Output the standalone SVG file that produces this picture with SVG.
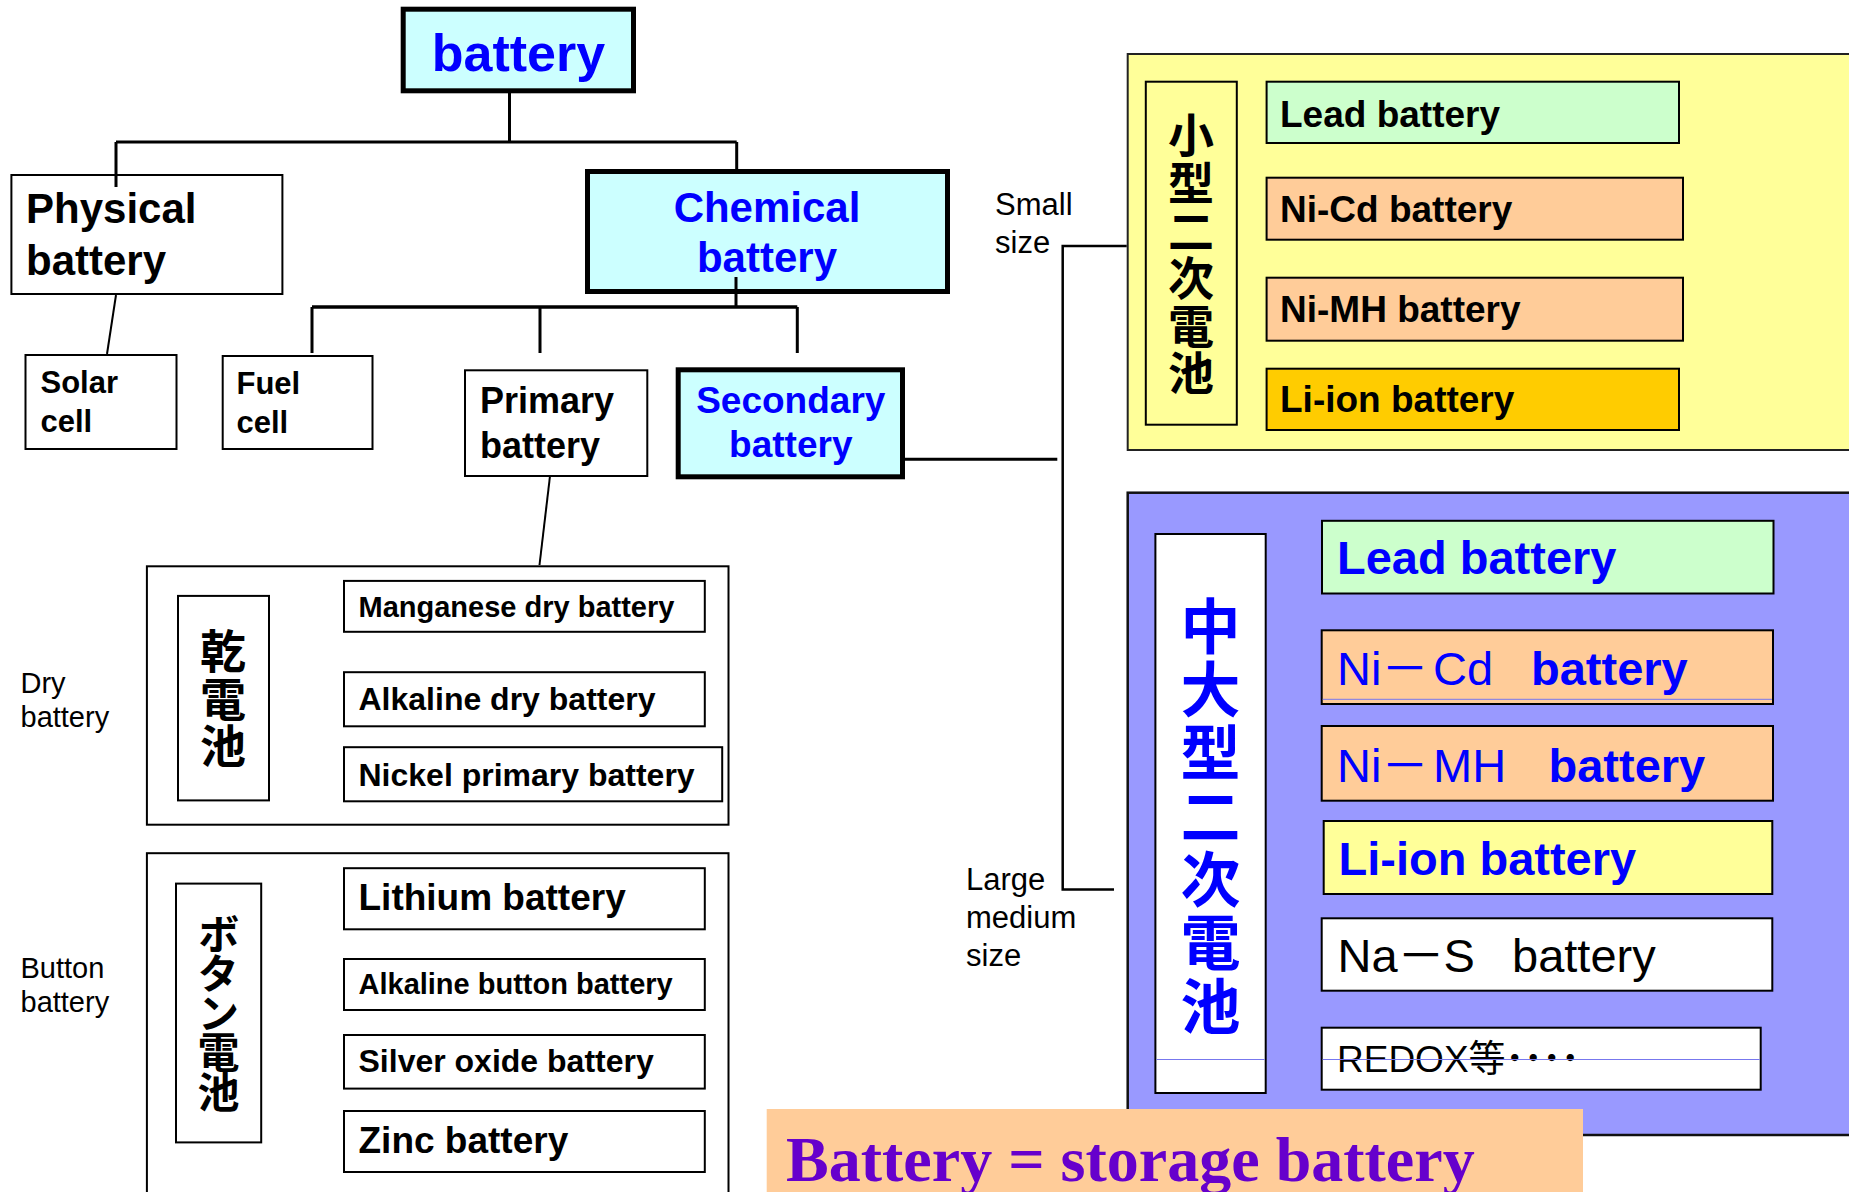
<svg xmlns="http://www.w3.org/2000/svg" width="1849" height="1192" viewBox="0 0 1849 1192">
<style>
text{font-family:"Liberation Sans",Arial,"Noto Sans CJK JP",sans-serif}
.b{font-weight:bold}
.r{font-weight:normal}
.cjk{font-family:"Noto Sans CJK JP","Noto Sans CJK SC",sans-serif;font-weight:bold;writing-mode:vertical-rl;text-orientation:upright}
.blue{fill:#0000FF}
.box{stroke:#000;stroke-width:2}
.thick{stroke:#000;stroke-width:5}
.conn{fill:none;stroke:#000;stroke-linecap:butt}
.w{fill:#FFFFFF}
.cyan{fill:#CCFFFF}
.yel{fill:#FFFF99}
.grn{fill:#CCFFCC}
.org{fill:#FFCC99}
.gold{fill:#FFCC00}
.pur{fill:#9999FF}
.note{font-size:31px;fill:#000}
.thin{stroke:#7777EE;stroke-width:1}
</style>

<g id="node-battery">
<rect class="thick cyan" x="403.2" y="9.2" width="230.3" height="81.6"/>
<text class="b blue" x="518.5" y="71" font-size="52" text-anchor="middle">battery</text>
</g>

<g id="node-physical">
<rect class="box w" x="11.4" y="175" width="271" height="119"/>
<text class="b" x="26" y="223" font-size="42">Physical</text>
<text class="b" x="26" y="275" font-size="42">battery</text>
</g>

<g id="node-chemical">
<rect class="thick cyan" x="587.5" y="171.5" width="360" height="120"/>
<text class="b blue" x="767" y="222" font-size="42" text-anchor="middle">Chemical</text>
<text class="b blue" x="767" y="272" font-size="42" text-anchor="middle">battery</text>
</g>

<g id="node-solar">
<rect class="box w" x="25.5" y="355" width="151" height="94"/>
<text class="b" x="40.5" y="393" font-size="31">Solar</text>
<text class="b" x="40.5" y="432" font-size="31">cell</text>
</g>

<g id="node-fuel">
<rect class="box w" x="222.7" y="356" width="149.8" height="93"/>
<text class="b" x="236.5" y="394" font-size="31">Fuel</text>
<text class="b" x="236.5" y="433" font-size="31">cell</text>
</g>

<g id="node-primary">
<rect class="box w" x="465" y="370.3" width="182.3" height="105.7"/>
<text class="b" x="480" y="413" font-size="36">Primary</text>
<text class="b" x="480" y="458" font-size="36">battery</text>
</g>

<g id="node-secondary">
<rect class="thick cyan" x="678.2" y="369.8" width="224.3" height="107"/>
<text class="b blue" x="790.8" y="413" font-size="37" text-anchor="middle">Secondary</text>
<text class="b blue" x="790.8" y="457" font-size="37" text-anchor="middle">battery</text>
</g>

<g id="node-dry">
<rect class="box w" x="146.9" y="566.3" width="581.6" height="258.4"/>
<rect class="box w" x="178" y="595.9" width="91" height="204.5"/>
<text class="cjk" x="223" y="628" font-size="46" letter-spacing="1.5">乾電池</text>
<rect class="box w" x="344" y="580.9" width="360.8" height="50.9"/>
<text class="b" x="358.5" y="617" font-size="29">Manganese dry battery</text>
<rect class="box w" x="344" y="672.2" width="360.8" height="54.1"/>
<text class="b" x="358.5" y="709.6" font-size="32">Alkaline dry battery</text>
<rect class="box w" x="344" y="747.2" width="378.2" height="54.1"/>
<text class="b" x="358.5" y="786" font-size="32">Nickel primary battery</text>
</g>

<g id="node-button">
<rect class="box w" x="146.9" y="853.2" width="581.6" height="400"/>
<rect class="box w" x="176" y="883.6" width="85.2" height="258.8"/>
<text class="cjk" x="218.6" y="913" font-size="42" letter-spacing="-2.5">ボタン電池</text>
<rect class="box w" x="344" y="868.2" width="360.8" height="61.1"/>
<text class="b" x="358.5" y="910.4" font-size="37">Lithium battery</text>
<rect class="box w" x="344" y="959" width="360.8" height="51"/>
<text class="b" x="358.5" y="994" font-size="29">Alkaline button battery</text>
<rect class="box w" x="344" y="1035" width="360.8" height="53.6"/>
<text class="b" x="358.5" y="1071.5" font-size="32">Silver oxide battery</text>
<rect class="box w" x="344" y="1111" width="360.8" height="61"/>
<text class="b" x="358.5" y="1153" font-size="37">Zinc battery</text>
</g>

<g id="label-dry">
<text class="r" x="20.5" y="693" font-size="29">Dry</text>
<text class="r" x="20.5" y="727" font-size="29">battery</text>
</g>
<g id="label-button">
<text class="r" x="20.5" y="978" font-size="29">Button</text>
<text class="r" x="20.5" y="1012" font-size="29">battery</text>
</g>

<g id="node-small">
<rect class="yel" x="1127.7" y="54" width="800" height="396" stroke="#222" stroke-width="2"/>
<rect class="box yel" x="1145.8" y="81.7" width="91" height="343"/>
<text class="cjk" x="1191" y="112" font-size="46" letter-spacing="1.6">小型二次電池</text>
<rect class="box grn" x="1266.6" y="81.7" width="412.4" height="61.3"/>
<text class="b" x="1280" y="126.7" font-size="37">Lead battery</text>
<rect class="box org" x="1266.6" y="177.7" width="416.4" height="62"/>
<text class="b" x="1280" y="221.7" font-size="37">Ni-Cd battery</text>
<rect class="box org" x="1266.6" y="277.7" width="416.4" height="63"/>
<text class="b" x="1280" y="321.7" font-size="37">Ni-MH battery</text>
<rect class="box gold" x="1266.6" y="368.7" width="412.4" height="61.3"/>
<text class="b" x="1280" y="412" font-size="37">Li-ion battery</text>
</g>

<g id="label-small">
<text class="note r" x="995" y="215">Small</text>
<text class="note r" x="995" y="253">size</text>
</g>

<g id="node-large">
<rect class="pur" x="1127.7" y="492.7" width="800" height="642.3" stroke="#111" stroke-width="2.5"/>
<rect class="box w" x="1155.4" y="534" width="110.3" height="559"/>
<line class="thin" x1="1156.4" y1="1059.5" x2="1264.7" y2="1059.5"/>
<text class="cjk blue" x="1210.5" y="596" font-size="60" letter-spacing="3.3">中大型二次電池</text>
<rect class="box grn" x="1322" y="520.8" width="451.5" height="72.7"/>
<text class="b blue" x="1337" y="574.4" font-size="47">Lead battery</text>
<rect class="box org" x="1321.7" y="630.3" width="451.3" height="73.7"/>
<line class="thin" x1="1322.7" y1="699.3" x2="1772" y2="699.3"/>
<text class="blue" font-size="47" y="685"><tspan class="r" x="1337">Ni－</tspan><tspan class="r" x="1433">Cd</tspan><tspan class="b" x="1531">battery</tspan></text>
<rect class="box org" x="1321.7" y="726" width="451.3" height="74.7"/>
<text class="blue" font-size="47" y="781.7"><tspan class="r" x="1337">Ni－</tspan><tspan class="r" x="1433">MH</tspan><tspan class="b" x="1548.5">battery</tspan></text>
<rect class="box yel" x="1323.7" y="821" width="448.6" height="73"/>
<text class="b blue" x="1338.5" y="875" font-size="47">Li-ion battery</text>
<rect class="box w" x="1321.7" y="918.3" width="450.6" height="72.4"/>
<text class="r" font-size="47" y="971.7"><tspan x="1337.5">Na－</tspan><tspan x="1443.5">S</tspan><tspan x="1512">battery</tspan></text>
<rect class="box w" x="1321.7" y="1027.7" width="439" height="62"/>
<text class="r" x="1337" y="1071.7" font-size="37">REDOX等<tspan class="b">････</tspan></text>
<line class="thin" x1="1322.7" y1="1059.5" x2="1759.7" y2="1059.5"/>
</g>

<g id="label-large">
<text class="note r" x="966" y="890">Large</text>
<text class="note r" x="966" y="928">medium</text>
<text class="note r" x="966" y="966">size</text>
</g>

<g id="connectors">
<path class="conn" stroke-width="3" d="M509.5 93 V142 M116 142 H736.7 M116 142 V187 M736.7 142 V170"/>
<path class="conn" stroke-width="2" d="M116 295 L107 354"/>
<path class="conn" stroke-width="3" d="M736 277 V307"/>
<path class="conn" stroke-width="3.5" d="M312 307 H797.3"/>
<path class="conn" stroke-width="3" d="M312 307 V353 M540 307 V353 M797.3 307 V353"/>
<path class="conn" stroke-width="2" d="M550 476 L539.5 565"/>
<path class="conn" stroke-width="3" d="M905 459.3 H1057.3"/>
<path class="conn" stroke-width="2.5" d="M1126.7 246 H1062.7 V889.5 H1114"/>
</g>

<g id="banner">
<rect class="org" x="766.7" y="1109" width="816.3" height="100"/>
<text x="786" y="1180.7" font-size="64" font-weight="bold" fill="#6600CC" style="font-family:'Liberation Serif','Times New Roman',serif">Battery = storage battery</text>
</g>
</svg>
